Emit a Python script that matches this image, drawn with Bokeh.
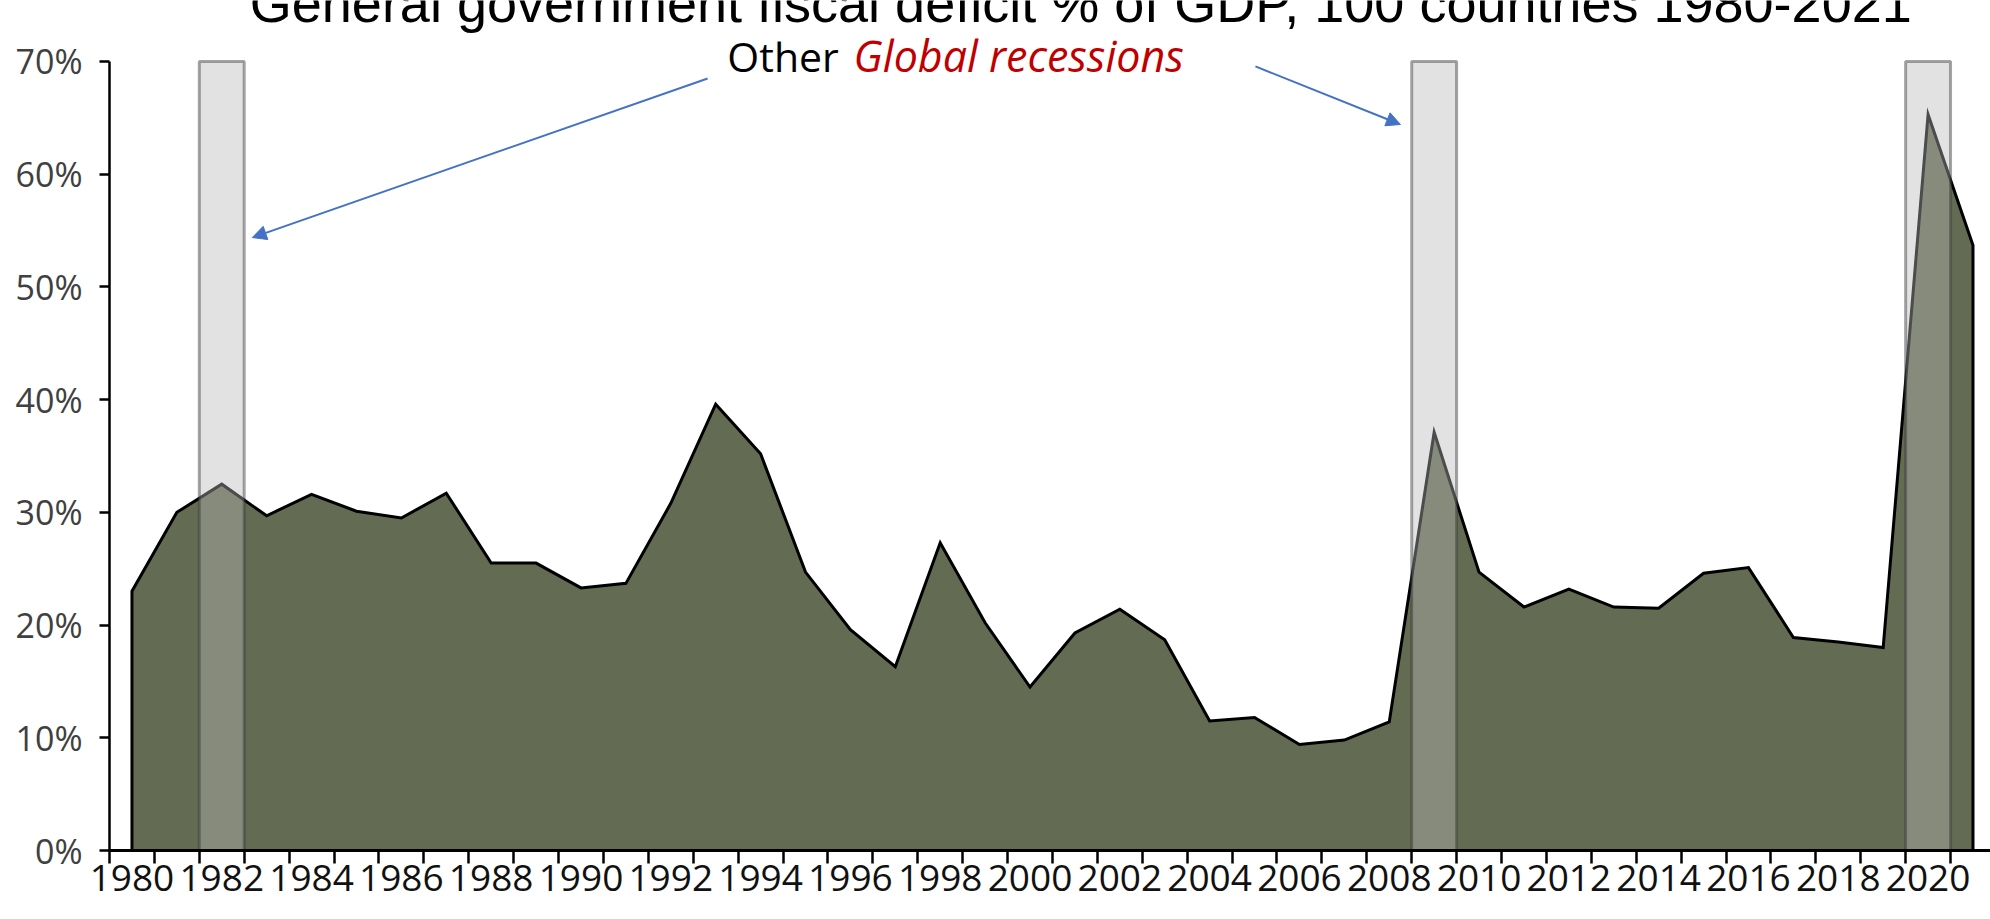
from bokeh.plotting import figure
from bokeh.models import Range1d, FixedTicker, PrintfTickFormatter, Label, Arrow, NormalHead, ColumnDataSource
from bokeh.embed import file_html
from bokeh.resources import INLINE

# ---------------- data ----------------
title_text = "General government fiscal deficit % of GDP, 100 countries 1980-2021"
years = list(range(1980, 2022))
deficit_pct = [23.0, 30.0, 32.5, 29.7, 31.6, 30.1, 29.5, 31.7, 25.5, 25.5,
               23.3, 23.7, 30.8, 39.6, 35.2, 24.7, 19.6, 16.3, 27.3, 20.2,
               14.5, 19.3, 21.4, 18.7, 11.5, 11.8, 9.4, 9.8, 11.4, 37.1,
               24.7, 21.6, 23.2, 21.6, 21.5, 24.6, 25.1, 18.9, 18.5, 18.0,
               65.3, 53.7]
recession_years = [1982, 2009, 2020]
x_label_years = list(range(1980, 2021, 2))
y_ticks = [0, 10, 20, 30, 40, 50, 60, 70]
annot_black = "Other"
annot_red = "Global recessions"

Y_MAX = 70          # top of the value axis
Y_VIEW = 75.41      # visible top of the canvas (title sits above the axis)
X_START = years[0] - 0.5
X_END = 2021.39

p = figure(width=1990, height=919, output_backend="svg", toolbar_location=None,
           x_range=Range1d(X_START, X_END), y_range=Range1d(0, Y_VIEW),
           min_border_left=109, min_border_right=0, min_border_top=0, min_border_bottom=69)
p.outline_line_color = None
p.grid.visible = False
p.background_fill_color = "white"
p.border_fill_color = "white"

# area
area_x = [years[0]] + years + [years[-1]]
area_y = [0] + deficit_pct + [0]
p.patch(area_x, area_y, fill_color="#636c53", line_color="black", line_width=3, line_join="miter")

# recession bands
band_src = ColumnDataSource(dict(
    left=[y - 0.5 for y in recession_years],
    right=[y + 0.5 for y in recession_years],
    bottom=[0] * len(recession_years),
    top=[Y_MAX] * len(recession_years)))
p.quad(left="left", right="right", bottom="bottom", top="top", source=band_src,
       fill_color="#b9b9b9", fill_alpha=0.41, line_color="#383838", line_alpha=0.45, line_width=3)

# axes
FONT = "Open Sans"
xa = p.xaxis[0]
xa.ticker = FixedTicker(ticks=x_label_years, minor_ticks=[y - 0.5 for y in years] + [years[-1] + 0.5])
xa.axis_line_color = "black"
xa.axis_line_width = 3
xa.major_tick_out = 13
xa.major_tick_in = 0
xa.major_tick_line_alpha = 0
xa.minor_tick_out = 13
xa.minor_tick_in = 0
xa.minor_tick_line_color = "black"
xa.minor_tick_line_width = 2.5
xa.major_label_text_font = FONT
xa.major_label_text_font_size = "37px"
xa.major_label_text_color = "#111111"
xa.major_label_standoff = 1

ya = p.yaxis[0]
ya.ticker = FixedTicker(ticks=y_ticks, minor_ticks=[])
ya.bounds = (0, Y_MAX)
ya.formatter = PrintfTickFormatter(format="%d%%")
ya.axis_line_color = "black"
ya.axis_line_width = 2.5
ya.major_tick_out = 10
ya.major_tick_in = 0
ya.major_tick_line_color = "black"
ya.major_tick_line_width = 2.5
ya.minor_tick_line_color = None
ya.major_label_text_font = FONT
ya.major_label_text_font_size = "34px"
ya.major_label_text_color = "#404040"
ya.major_label_standoff = 17

# title (partly cut off at top, as in the reference)
p.add_layout(Label(x=2001.13, y=75.2, text=title_text, text_align="center",
                   text_baseline="alphabetic", text_font="Liberation Sans",
                   text_font_size="54px", text_color="black"))

# annotation text
p.add_layout(Label(x=1993.26, y=70.53, text=annot_black, text_align="left",
                   text_baseline="alphabetic", text_font=FONT,
                   text_font_size="41px", text_color="black"))
p.add_layout(Label(x=1996.07, y=70.53, text=annot_red, text_align="left",
                   text_baseline="alphabetic", text_font=FONT, text_font_style="italic",
                   text_font_size="43px", text_color="#c00000"))

# arrows
BLUE = "#4472c4"
p.add_layout(Arrow(x_start=1992.82, y_start=68.49, x_end=1982.68, y_end=54.38,
                   line_color=BLUE, line_width=2,
                   end=NormalHead(size=14, fill_color=BLUE, line_color=BLUE, line_width=1)))
p.add_layout(Arrow(x_start=2005.02, y_start=69.56, x_end=2008.25, y_end=64.41,
                   line_color=BLUE, line_width=2,
                   end=NormalHead(size=14, fill_color=BLUE, line_color=BLUE, line_width=1)))

open("out.html", "w").write(file_html(p, INLINE))
